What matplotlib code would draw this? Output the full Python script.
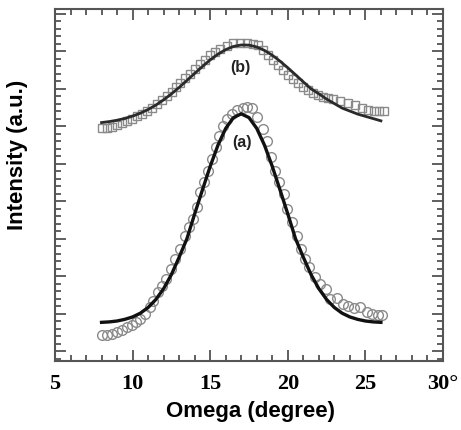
import numpy as np
import matplotlib
matplotlib.use("Agg")
import matplotlib.pyplot as plt
from matplotlib.ticker import MultipleLocator, FixedLocator, FixedFormatter

# measured points (a) - circles
omega_a = [8.03, 8.35, 8.67, 8.99, 9.32, 9.64, 9.96, 10.22, 10.48, 10.80, 11.12, 11.31,
           11.64, 11.89, 12.15, 12.47, 12.73, 13.05, 13.38, 13.63, 13.89, 14.15, 14.34,
           14.60, 14.85, 15.10, 15.35, 15.60, 15.85, 16.10, 16.40, 16.75, 17.10, 17.40,
           17.70, 18.02, 18.40, 18.65, 18.90, 19.20, 19.45, 19.75, 19.95, 20.27, 20.59,
           20.85, 21.11, 21.37, 21.75, 22.07, 22.46, 22.72, 23.17, 23.56, 23.88, 24.27,
           24.65, 25.10, 25.43, 25.81, 26.07]
int_a = [3.47, 3.47, 3.6, 3.87, 4.13, 4.53, 4.8, 5.2, 5.6, 6.27, 7.2, 8.0,
         9.2, 10.0, 10.93, 12.27, 13.6, 14.93, 16.67, 17.87, 18.93, 20.53, 22.53,
         23.87, 25.33, 26.93, 28.53, 30.0, 31.33, 32.27, 32.93, 33.47, 33.73, 33.87,
         33.73, 32.53, 30.93, 29.33, 27.2, 25.33, 23.87, 22.27, 20.27, 18.53, 16.67,
         14.93, 13.6, 12.53, 11.2, 10.27, 9.6, 8.27, 8.4, 7.6, 7.33, 7.07,
         7.2, 6.53, 6.27, 6.13, 6.13]

# fit curve (a)
fit_x = [8, 8.5, 9, 9.5, 10, 10.5, 11, 11.5, 12, 12.5, 13, 13.5, 14, 14.5, 15, 15.5, 16, 16.5,
         17, 17.5, 18, 18.5, 19, 19.5, 20, 20.5, 21, 21.5, 22, 22.5, 23, 23.5, 24, 24.5,
         25, 25.5, 26]
fit_a = [5.15, 5.21, 5.33, 5.55, 5.87, 6.37, 7.13, 8.2, 9.64, 11.51, 13.83, 16.29, 19.6,
         22.8, 25.93, 28.75, 30.99, 32.43, 32.93, 32.43, 30.99, 28.75, 25.93, 22.8, 19.6,
         16.29, 13.83, 11.51, 9.64, 8.2, 7.13, 6.37, 5.87, 5.55, 5.33, 5.21, 5.15]

# measured points (b) - squares
omega_b = [8.03, 8.35, 8.67, 8.99, 9.32, 9.64, 9.96, 10.28, 10.61, 10.93, 11.25, 11.57,
           11.89, 12.22, 12.54, 12.80, 13.05, 13.38, 13.70, 14.02, 14.34, 14.66, 14.99,
           15.31, 15.63, 16.08, 16.47, 16.92, 17.37, 17.76, 18.08, 18.40, 18.72, 19.05,
           19.37, 19.69, 20.01, 20.34, 20.66, 20.98, 21.30, 21.62, 21.95, 22.27, 22.59,
           22.92, 23.37, 23.88, 24.33, 24.78, 25.17, 25.55, 25.88, 26.2]
int_b = [31.07, 31.07, 31.2, 31.47, 31.73, 32.0, 32.27, 32.67, 32.93, 33.33, 33.73, 34.27,
         34.8, 35.33, 35.87, 36.53, 37.07, 37.73, 38.27, 38.93, 39.6, 40.13, 40.8,
         41.2, 41.6, 42.0, 42.4, 42.4, 42.4, 42.27, 42.13, 41.47, 40.8, 40.13,
         39.47, 38.8, 38.13, 37.6, 37.07, 36.53, 36.13, 35.73, 35.47, 35.2, 35.07,
         34.93, 34.67, 34.4, 34.13, 33.73, 33.47, 33.33, 33.33, 33.33]

# fit curve (b)
fit_b = [31.77, 31.9, 32.08, 32.32, 32.63, 33.02, 33.51, 34.1, 34.8, 35.58, 36.45, 37.38,
         38.32, 39.25, 40.12, 40.88, 41.49, 41.91, 42.11, 42.09, 41.84, 41.38, 40.74, 39.95,
         39.07, 38.14, 37.19, 36.27, 35.6, 34.9, 34.3, 33.7, 33.3, 32.9, 32.6, 32.3, 32.0]

xtick_vals = [5, 10, 15, 20, 25, 30]
xtick_text = ["5", "10", "15", "20", "25", "30\u00b0"]

fig = plt.figure(figsize=(4.61, 4.31), dpi=100)
ax = fig.add_axes([0.1193, 0.1601, 0.8416, 0.8167])

ax.plot(omega_b, int_b, "s", ms=6.2, mfc="none", mec="#8a8a8a", mew=1.0)
ax.plot(fit_x, fit_b, "-", color="#2a2a2a", lw=2.0)
ax.plot(omega_a, int_a, "o", ms=7, mfc="none", mec="#8a8a8a", mew=1.0)
ax.plot(fit_x, fit_a, "-", color="#111111", lw=2.4)

ax.text(16.95, 39.2, "(b)", ha="center", va="center", fontsize=11.5,
        fontweight="bold", family="Liberation Sans", color="#222222")
ax.text(17.05, 29.2, "(a)", ha="center", va="center", fontsize=11.5,
        fontweight="bold", family="Liberation Sans", color="#222222")

ax.set_xlim(5, 30)
ax.set_ylim(0, 46.9)
ax.xaxis.set_major_locator(FixedLocator(xtick_vals))
ax.xaxis.set_major_formatter(FixedFormatter(xtick_text))
ax.xaxis.set_minor_locator(MultipleLocator(1))
ax.yaxis.set_major_locator(MultipleLocator(5, offset=1.3))
ax.yaxis.set_minor_locator(MultipleLocator(1, offset=0.3))
ax.set_yticklabels([])

ax.tick_params(which="both", direction="in", top=True, right=True, color="#444444", width=1.2)
ax.tick_params(which="major", length=8, pad=9)
ax.tick_params(which="minor", length=4)
for lbl in ax.get_xticklabels():
    lbl.set_family("Liberation Serif")
    lbl.set_fontweight("bold")
    lbl.set_fontsize(16)
for sp in ax.spines.values():
    sp.set_color("#555555")
    sp.set_linewidth(1.5)

ax.set_xlabel("Omega (degree)", fontsize=16, fontweight="bold", family="Liberation Sans")
ax.set_ylabel("Intensity (a.u.)", fontsize=16, fontweight="bold", family="Liberation Sans")
ax.xaxis.set_label_coords(0.503, -0.112)
ax.yaxis.set_label_coords(-0.07, 0.588)

fig.savefig("out.png", dpi=100)
